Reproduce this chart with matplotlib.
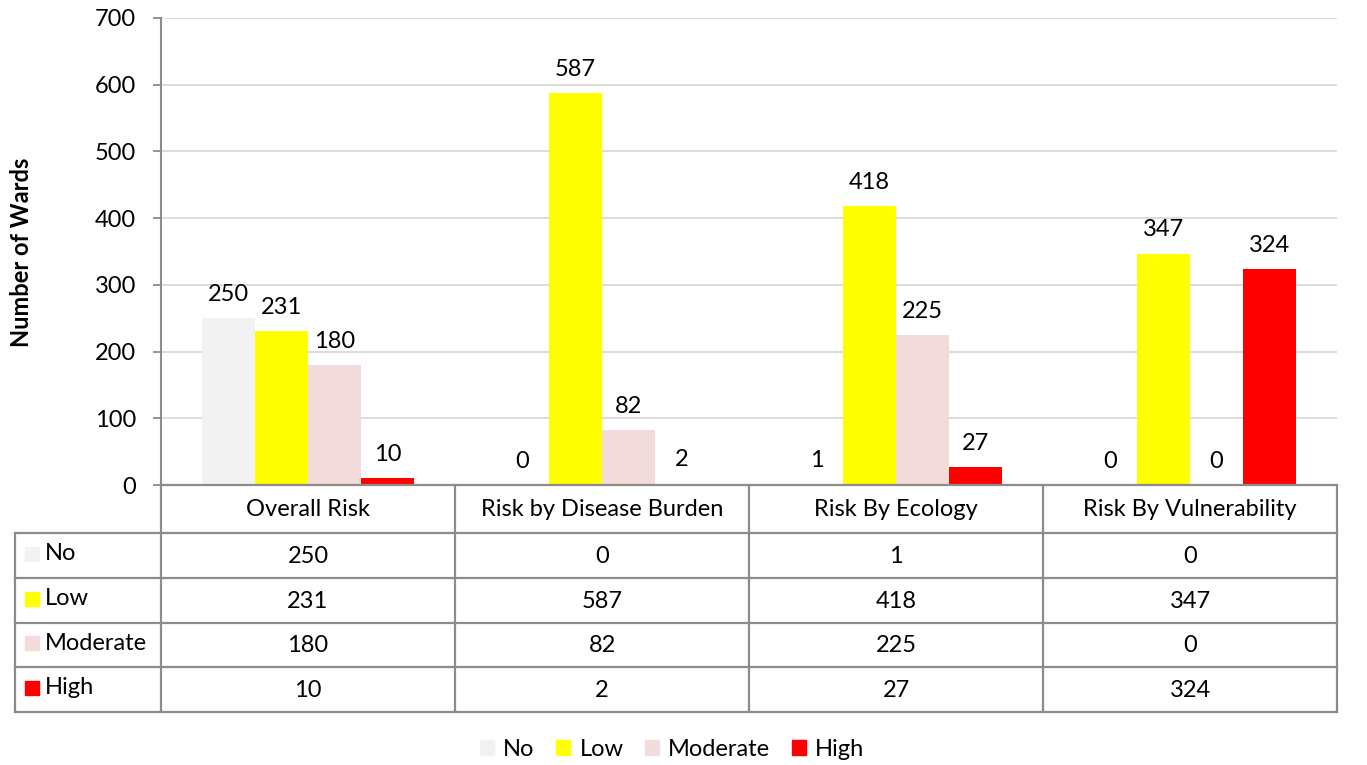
import matplotlib
matplotlib.use('Agg')
import matplotlib.pyplot as plt
from matplotlib.patches import Patch

plt.rcParams['font.family'] = ['Lato', 'DejaVu Sans']
plt.rcParams['font.size'] = 17

# risk categories and ward counts per risk level
categories = ['Overall Risk', 'Risk by Disease Burden', 'Risk By Ecology', 'Risk By Vulnerability']
levels = ['No', 'Low', 'Moderate', 'High']
no_risk = [250, 0, 1, 0]
low_risk = [231, 587, 418, 347]
moderate_risk = [180, 82, 225, 0]
high_risk = [10, 2, 27, 324]
series = [no_risk, low_risk, moderate_risk, high_risk]
colors = ['#f2f2f2', '#ffff00', '#f2dcdb', '#ff0000']

W, H = 1367, 765
line_col = '#8c8c8c'
fs = 17


def box(l, t, r, b):
    return [l / W, 1 - b / H, (r - l) / W, (b - t) / H]


fig = plt.figure(figsize=(W / 100, H / 100), dpi=100)
ax = fig.add_axes(box(161, 18, 1337, 485))
ax.set_xlim(0, 4)
ax.set_ylim(0, 700)

bw = 0.18
for k, (vals, c) in enumerate(zip(series, colors)):
    xs = [i + 0.5 + (k - 1.5) * bw for i in range(len(categories))]
    ax.bar(xs, vals, width=bw, color=c, zorder=2)
    for x, v in zip(xs, vals):
        ax.annotate(str(v), (x, v), xytext=(0, 9.5), textcoords='offset points',
                    ha='center', va='bottom', fontsize=fs)

ax.set_yticks(range(0, 701, 100))
ax.set_xticks([])
ax.yaxis.grid(True, color='#d9d9d9', lw=1.3)
ax.set_axisbelow(True)
ax.tick_params(axis='y', length=6, width=1.3, color=line_col, pad=12, labelsize=fs)
for s in ['top', 'right', 'bottom']:
    ax.spines[s].set_visible(False)
ax.spines['left'].set_color(line_col)
ax.spines['left'].set_linewidth(1.5)

fig.text(22 / W, 1 - 252 / H, 'Number of Wards', rotation=90, ha='center', va='center',
         fontsize=fs, fontweight='bold')

# data table under the bars
tax = fig.add_axes(box(15, 485, 1337, 712))
left = -146 / 294
tax.set_xlim(left, 4)
tax.set_ylim(227, 0)
tax.axis('off')
rows = [0, 48, 93, 138, 182, 227]
kw = dict(color=line_col, lw=1.6, clip_on=False, solid_capstyle='projecting')
tax.plot([0, 4], [0, 0], **kw)
for y in rows[1:]:
    tax.plot([left, 4], [y, y], **kw)
for x in range(5):
    tax.plot([x, x], [0, 227], **kw)
tax.plot([left, left], [48, 227], **kw)

for i, cat in enumerate(categories):
    tax.text(i + 0.5, 25, cat, ha='center', va='center', fontsize=fs)
for r, (lvl, vals, c) in enumerate(zip(levels, series, colors)):
    ym = (rows[r + 1] + rows[r + 2]) / 2
    tax.plot([-0.439], [ym - 2], marker='s', ms=10.5, color=c, ls='none', clip_on=False)
    tax.text(-0.395, ym - 2, lvl, ha='left', va='center', fontsize=fs)
    for i, v in enumerate(vals):
        tax.text(i + 0.5, ym + 1, str(v), ha='center', va='center', fontsize=fs)

handles = [Patch(color=c, label=l) for c, l in zip(colors, levels)]
fig.legend(handles=handles, loc='center', bbox_to_anchor=(672 / W, 1 - 749 / H), ncol=4,
           frameon=False, fontsize=fs, handlelength=0.6, handleheight=0.6,
           handletextpad=0.4, columnspacing=0.9)

fig.savefig('out.png', dpi=100)
